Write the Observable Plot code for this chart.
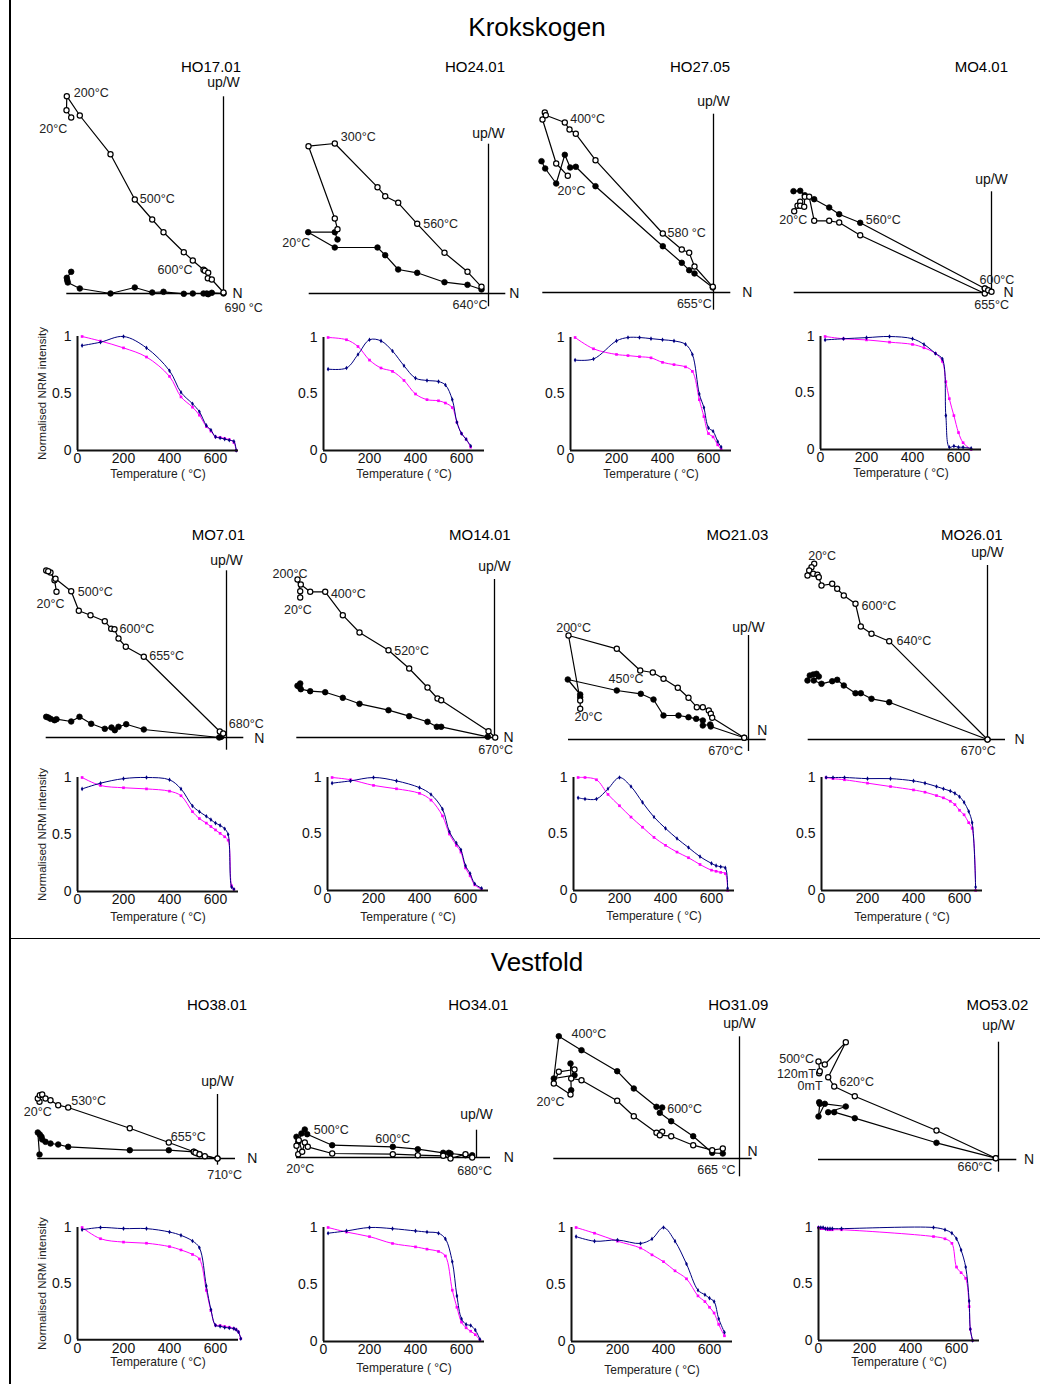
<!DOCTYPE html>
<html><head><meta charset="utf-8">
<script src="https://cdn.jsdelivr.net/npm/d3@7"></script>
<script src="https://cdn.jsdelivr.net/npm/@observablehq/plot@0.6"></script>
<style>
body{margin:0;background:#fff;}
#page{position:relative;width:1040px;height:1384px;overflow:hidden;font-family:"Liberation Sans",Arial,Helvetica,sans-serif;background:#fff;}
.abs{position:absolute;}
.sect{position:absolute;left:0;width:1074px;text-align:center;font-size:26px;line-height:30px;color:#000;}
.ttl{position:absolute;width:200px;text-align:right;font-size:15px;line-height:18px;color:#000;}
</style></head><body><div id="page"></div>
<script>
const FONT='"Liberation Sans", Arial, Helvetica, sans-serif';
// ---------- Zijderveld data (vertical projection = open, horizontal = closed), relative units ----------
const HO17_01_open=[[-152.3,176],[-157,183.3],[-156.7,197.3],[-143.7,178],[-113,139.3],[-88.7,94],[-71.3,74],[-60,61.3],[-39.7,41.3],[-30.7,33],[-20,23.7],[-18.7,22.7],[-15.3,20.7],[-15.7,15.3],[-11.7,14],[0,1]];
const HO17_01_closed=[[-152.3,21.7],[-156.7,15.7],[-156.3,13.3],[-155.7,11],[-143.7,5],[-113,0],[-88.7,6],[-71.3,1],[-60,1.7],[-39.7,-0.3],[-30.7,0],[-20,0],[-16.7,0],[-15.3,-0.7],[-11.7,0.7],[0,0]];
const HO17_01_labels=[{t:"200°C",s:"o",i:2},{t:"20°C",s:"o",i:0},{t:"500°C",s:"o",i:5},{t:"600°C",s:"o",i:10},{t:"690 °C",s:"o",i:15}];

const HO24_01_open=[[-151,64.3],[-153.7,75],[-180,147.3],[-153.7,150],[-111,106.3],[-103.3,97.3],[-90.3,90.7],[-71.3,69.7],[-44,40.7],[-21,21.7],[-7,6.7]];
const HO24_01_closed=[[-151,54],[-153.7,61.3],[-180.3,61.3],[-153.7,46],[-111,46],[-103.3,38.3],[-90.3,24],[-71.3,20.7],[-44,11.3],[-21,8.7],[-7,4]];
const HO24_01_labels=[{t:"300°C",s:"o",i:3},{t:"20°C",s:"c",i:2},{t:"560°C",s:"o",i:7},{t:"640°C",s:"o",i:10}];

const HO27_05_open=[[-145.7,116.7],[-157.3,129],[-171,173],[-168.7,180],[-167.7,177.3],[-148.7,170],[-144,163],[-137.7,158.7],[-118,132.3],[-50.7,59],[-31.7,43],[-24.3,39.7],[-19,26],[-0.7,5.7]];
const HO27_05_closed=[[-172,131.3],[-168.3,124],[-157.3,109],[-148.7,137.7],[-143.3,125],[-137.7,125.7],[-118,106.3],[-50.7,46.3],[-31.7,29.7],[-24.3,22.3],[-19,19],[-0.7,5]];
const HO27_05_labels=[{t:"400°C",s:"o",i:5},{t:"20°C",s:"o",i:0},{t:"580 °C",s:"o",i:9},{t:"655°C",s:"o",i:13}];

const MO4_01_open=[[-197.3,81.3],[-194,86.7],[-191.3,90.7],[-191.3,86.7],[-187.3,85.7],[-186.7,95.7],[-182.3,95.7],[-177.3,71.7],[-162.3,71.7],[-152.3,70],[-131.3,57.3],[-6.7,-1],[-6.7,4],[-3.3,2.3],[0,0.7]];
const MO4_01_closed=[[-198,101.3],[-191.3,101.7],[-186.7,97.3],[-177.3,93.3],[-162.3,85],[-152.3,78.3],[-131.3,69.7],[-6.7,4],[-4.7,3]];
const MO4_01_labels=[{t:"20°C",s:"o",i:0},{t:"560°C",s:"c",i:6},{t:"600°C",s:"o",i:12},{t:"655°C",s:"o",i:11}];

const MO7_01_open=[[-170,145.7],[-172,157.3],[-176,165],[-180.3,167],[-178.3,166.3],[-171,158.7],[-155.3,146.3],[-147.7,126.7],[-136,122.3],[-121.7,116.3],[-115.3,108.7],[-112,108.3],[-108,99],[-100.7,90.7],[-82.7,80.7],[-6.7,6],[-3.3,4]];
const MO7_01_closed=[[-180.3,20.7],[-178.3,20],[-176,18.7],[-172,17.3],[-170,18.3],[-155.3,16],[-147,20.7],[-135.3,13.7],[-121.7,8.7],[-115,10],[-111.7,7.3],[-108,10.7],[-100.3,13.3],[-82.7,8],[-7.3,0],[-5.3,0.7]];
const MO7_01_labels=[{t:"500°C",s:"o",i:6},{t:"20°C",s:"o",i:0},{t:"600°C",s:"o",i:11},{t:"655°C",s:"o",i:14},{t:"680°C",s:"o",i:16}];

const MO14_01_open=[[-194.3,140],[-194.3,146.3],[-197,158],[-193.7,153],[-184.3,145.7],[-169.3,145.7],[-151.7,122.3],[-135,105],[-106,87.3],[-85.3,69],[-67,50],[-57,39],[-53.3,37.3],[-6,6.3],[0.7,0]];
const MO14_01_closed=[[-197,51.7],[-194.3,54],[-195,50.7],[-193.7,48.3],[-184.3,46.3],[-169.3,45.3],[-151.7,39.7],[-135,33.7],[-106,27.3],[-85.3,21.3],[-67,15.7],[-57.7,10.7],[-53.3,10.7],[-6.7,0.7]];
const MO14_01_labels=[{t:"200°C",s:"o",i:2},{t:"20°C",s:"o",i:0},{t:"400°C",s:"o",i:5},{t:"520°C",s:"o",i:8},{t:"670°C",s:"o",i:14}];

const MO21_03_open=[[-168.3,30.7],[-168.3,39],[-180,104],[-131.7,90.7],[-108.3,69],[-95.7,67],[-85,60.7],[-70.7,51.7],[-60,41.7],[-51.7,32.3],[-45.7,32.3],[-39.7,29],[-37.7,25.7],[-36.3,21.7],[-4.3,1.7]];
const MO21_03_closed=[[-168.3,42.3],[-168.3,45],[-180.7,60],[-131.7,49],[-107.7,45.7],[-95,40],[-85,24],[-70,24],[-60,22.3],[-52.3,20.7],[-45.7,19],[-45.7,14],[-38.3,15],[-37.7,13],[-4.3,1.7]];
const MO21_03_labels=[{t:"200°C",s:"o",i:2},{t:"450°C",s:"o",i:4},{t:"20°C",s:"o",i:0},{t:"670°C",s:"o",i:14}];

const MO26_01_open=[[-173.3,175.7],[-176,172.3],[-178.3,169],[-180,164],[-174.3,165.7],[-170,164.7],[-168.7,162.3],[-166,154],[-155.3,155.7],[-150.3,150.7],[-143.7,144],[-132,135.7],[-126.7,113],[-116,105.7],[-98.3,98.3],[0,0]];
const MO26_01_closed=[[-180,59],[-177.7,64],[-174.3,65],[-171,65.7],[-168.7,63],[-173.7,59],[-166,55.7],[-155.3,58.3],[-150.3,59.7],[-143.7,54],[-132,46.3],[-126.7,46.3],[-116,40.7],[-98.3,37.3],[0,0]];
const MO26_01_labels=[{t:"20°C",s:"o",i:0},{t:"600°C",s:"o",i:11},{t:"640°C",s:"o",i:14},{t:"670°C",s:"o",i:15}];

const HO38_01_open=[[-178,56.7],[-179.7,60],[-177.7,63.3],[-175.3,64],[-172,60],[-167,58.3],[-159.3,53.3],[-149.3,51],[-87.7,30.3],[-48.7,16],[-23.7,6.7],[-22,5.7],[-18,4.3],[-12.7,2.3],[0,0]];
const HO38_01_closed=[[-178,4],[-179.7,26],[-177.7,24],[-176,21.7],[-175.3,19],[-172,16.7],[-167,15],[-159.3,14],[-149.3,11.7],[-87.7,8.3],[-48.7,8.3],[-23.7,6.7],[-20.3,5],[-18,4.3],[0,0]];
const HO38_01_labels=[{t:"530°C",s:"o",i:7},{t:"20°C",s:"o",i:0},{t:"655°C",s:"o",i:9},{t:"710°C",s:"o",i:14}];

const HO34_01_open=[[-178.3,3.3],[-180,11.7],[-177.7,17.3],[-174.3,5.7],[-171.7,15],[-168.7,10.7],[-144.3,4],[-83.7,3.3],[-58.7,2.3],[-33.3,1.7],[-26,-1],[-11,3.3],[-4.3,0]];
const HO34_01_closed=[[-180,20.7],[-178.3,15.7],[-175,24],[-171.7,28],[-169.3,23.3],[-144.3,12.3],[-83.7,10.7],[-58.7,8.3],[-33.3,4.7],[-27.7,4.7],[-26,4],[-11,2.3],[-4.3,2.3]];
const HO34_01_labels=[{t:"500°C",s:"c",i:3},{t:"600°C",s:"c",i:6},{t:"20°C",s:"o",i:0},{t:"680°C",s:"o",i:12}];

const HO31_09_open=[[-169,64],[-185.7,75],[-180.7,86.7],[-165,89],[-168.3,80],[-158,78.3],[-122.3,57.7],[-105.7,42.3],[-83,25.7],[-77.3,26.7],[-79.7,23.3],[-68.3,22.3],[-46.3,13.3],[-27.3,8.3],[-16.7,10]];
const HO31_09_closed=[[-168.3,68.3],[-169,95],[-165,83.3],[-185.7,80],[-180.7,122.3],[-158,108.3],[-122.3,87.3],[-105.7,70],[-83,51.7],[-77.3,51],[-79.7,45.7],[-68.3,37.3],[-46.3,22.3],[-27.3,5.7],[-16.7,5]];
const HO31_09_labels=[{t:"400°C",s:"c",i:4},{t:"20°C",s:"o",i:0},{t:"600°C",s:"c",i:9},{t:"665 °C",s:"c",i:14}];

const MO53_02_open=[[-179.3,86.3],[-178.7,88.3],[-180,98],[-173.7,95],[-152.7,117.3],[-170.3,82.3],[-164.3,73],[-143.7,63.3],[-62,29],[-2.7,1.3]];
const MO53_02_closed=[[-179.3,57.3],[-178.7,55.7],[-180,43],[-173.7,55.7],[-152.7,53],[-170.3,47.3],[-164.3,47.3],[-143.7,41.3],[-62,16.7],[-2.7,1.3]];
const MO53_02_labels=[{t:"500°C",s:"o",i:2},{t:"120mT",s:"o",i:1},{t:"0mT",s:"o",i:0},{t:"620°C",s:"o",i:6},{t:"660°C",s:"o",i:9}];

// ---------- Normalised NRM intensity curves ----------
const HO17_01_T=[20,100,200,300,400,450,500,530,560,580,600,620,640,660,680,690];
const HO17_01_blue=[0.92,0.95,1.0,0.9,0.7,0.51,0.41,0.34,0.22,0.18,0.12,0.11,0.10,0.09,0.08,0.0];
const HO17_01_mag=[1.0,0.96,0.9,0.82,0.65,0.47,0.38,0.31,0.21,0.17,0.12,0.115,0.105,0.095,0.07,0.0];

const HO24_01_T=[20,100,150,200,250,300,350,400,450,500,530,560,580,600,620,640];
const HO24_01_blue=[0.72,0.73,0.85,0.98,0.97,0.88,0.75,0.64,0.62,0.61,0.58,0.45,0.25,0.15,0.1,0.04];
const HO24_01_mag=[1.0,0.98,0.92,0.8,0.73,0.7,0.62,0.5,0.45,0.44,0.42,0.38,0.25,0.15,0.1,0.03];

const HO27_05_T=[20,100,200,250,300,350,400,450,500,530,560,580,600,620,640,655];
const HO27_05_blue=[0.8,0.81,0.97,1.0,1.0,0.99,0.98,0.97,0.94,0.85,0.5,0.38,0.2,0.17,0.08,0.03];
const HO27_05_mag=[1.0,0.9,0.85,0.84,0.83,0.82,0.78,0.76,0.74,0.7,0.45,0.3,0.15,0.12,0.05,0.01];

const MO4_01_T=[20,100,200,300,400,450,500,530,545,560,580,600,620,655];
const MO4_01_blue=[0.97,0.98,0.99,1.0,0.98,0.93,0.85,0.8,0.3,0.02,0.03,0.02,0.02,0.01];
const MO4_01_mag=[1.0,0.98,0.97,0.95,0.93,0.9,0.85,0.78,0.6,0.45,0.3,0.15,0.06,0.0];

const MO7_01_T=[20,100,200,300,400,450,500,530,560,580,600,620,640,655,670,680];
const MO7_01_blue=[0.9,0.95,0.99,1.0,0.98,0.9,0.75,0.7,0.66,0.63,0.6,0.58,0.55,0.5,0.04,0.02];
const MO7_01_mag=[1.0,0.93,0.91,0.9,0.88,0.84,0.7,0.64,0.6,0.57,0.54,0.51,0.48,0.45,0.05,0.02];

const MO14_01_T=[20,100,200,300,400,450,500,530,560,580,600,620,640,670];
const MO14_01_blue=[0.95,0.97,1.0,0.97,0.91,0.85,0.72,0.52,0.42,0.36,0.22,0.15,0.06,0.02];
const MO14_01_mag=[1.0,0.98,0.93,0.9,0.86,0.8,0.66,0.5,0.4,0.34,0.2,0.13,0.05,0.01];

const MO21_03_T=[20,50,100,150,200,250,300,350,400,450,500,550,600,620,640,660,670];
const MO21_03_blue=[0.82,0.81,0.81,0.9,1.0,0.92,0.78,0.65,0.55,0.46,0.38,0.3,0.24,0.22,0.21,0.2,0.02];
const MO21_03_mag=[1.0,1.0,0.98,0.85,0.75,0.65,0.56,0.47,0.4,0.34,0.29,0.23,0.18,0.17,0.16,0.15,0.0];

const MO26_01_T=[20,50,100,200,300,400,450,500,530,560,580,600,620,640,655,670];
const MO26_01_blue=[1.0,1.0,1.0,0.99,0.99,0.97,0.95,0.92,0.9,0.88,0.86,0.83,0.78,0.7,0.6,0.03];
const MO26_01_mag=[1.0,0.99,0.98,0.95,0.92,0.89,0.87,0.84,0.82,0.79,0.76,0.71,0.67,0.6,0.55,0.0];

const HO38_01_T=[20,100,200,300,400,450,500,530,560,580,600,620,640,660,680,690,700,710];
const HO38_01_blue=[0.98,1.0,0.99,0.99,0.96,0.93,0.88,0.82,0.48,0.27,0.13,0.12,0.11,0.105,0.1,0.09,0.07,0.01];
const HO38_01_mag=[1.0,0.9,0.87,0.86,0.83,0.8,0.76,0.72,0.44,0.26,0.13,0.127,0.118,0.112,0.1,0.09,0.07,0.01];

const HO34_01_T=[20,100,200,300,400,450,500,530,560,580,600,620,640,660,680];
const HO34_01_blue=[0.95,0.97,1.0,0.99,0.97,0.96,0.95,0.9,0.7,0.4,0.2,0.15,0.14,0.1,0.02];
const HO34_01_mag=[1.0,0.96,0.92,0.86,0.83,0.81,0.79,0.75,0.45,0.3,0.17,0.12,0.09,0.06,0.01];

const HO31_09_T=[20,100,200,300,350,400,450,500,550,580,600,620,640,665];
const HO31_09_blue=[0.92,0.88,0.89,0.86,0.9,1.0,0.88,0.68,0.45,0.41,0.38,0.35,0.2,0.08];
const HO31_09_mag=[1.0,0.95,0.88,0.82,0.76,0.7,0.62,0.55,0.4,0.35,0.3,0.25,0.15,0.05];

const MO53_02_T=[0,10,20,30,40,50,60,100,500,550,580,600,620,640,655,660,670];
const MO53_02_blue=[1.0,1.0,1.0,0.99,0.99,0.99,0.99,0.99,1.0,0.98,0.95,0.9,0.8,0.65,0.35,0.1,0.0];
const MO53_02_mag=[1.0,0.99,0.99,0.99,0.98,0.98,0.98,0.98,0.92,0.9,0.86,0.65,0.6,0.55,0.3,0.1,0.0];

const xTicks=[0,200,400,600];
const yTicks=[0,0.5,1];

// ---------- layout ----------
const page=document.getElementById("page");
function place(el,left,top){const d=document.createElement("div");d.className="abs";d.style.left=left+"px";d.style.top=top+"px";d.appendChild(el);page.appendChild(d);return d;}
function html(cls,txt,css){const d=document.createElement("div");d.className=cls;d.textContent=txt;Object.assign(d.style,css);page.appendChild(d);return d;}

function zij(name,open,closed,labels,L){
  const Lw=250,Rw=50,Tw=240,Bw=40,W=Lw+Rw,H=Tw+Bw;
  const o=open.map(([x,y])=>({x,y})), c=closed.map(([x,y])=>({x,y}));
  const textMarks=labels.map((l,k)=>{const p=(l.s==="o"?o:c)[l.i];const off=L.lab[k];
    return Plot.text([{x:p.x,y:p.y,t:l.t}],{x:"x",y:"y",text:"t",dx:off[0],dy:off[1],textAnchor:off[2],fontSize:12.5,fill:"#222"});});
  const svg=Plot.plot({
    width:W,height:H,marginLeft:0,marginRight:0,marginTop:0,marginBottom:0,
    x:{domain:[-Lw,Rw],range:[0,W],axis:null},
    y:{domain:[-Bw,Tw],range:[H,0],axis:null},
    style:{background:"transparent",overflow:"visible",fontFamily:FONT,maxWidth:"none"},
    marks:[
      Plot.ruleY([0],{x1:L.h[0],x2:L.h[1],stroke:"#000",strokeWidth:1.3}),
      Plot.ruleX([0],{y1:L.v[0],y2:L.v[1],stroke:"#000",strokeWidth:1.3}),
      Plot.line(c,{x:"x",y:"y",stroke:"#000",strokeWidth:1.2}),
      Plot.line(o,{x:"x",y:"y",stroke:"#000",strokeWidth:1.2}),
      Plot.dot(c,{x:"x",y:"y",r:2.8,fill:"#000",stroke:"#000",strokeWidth:0.8}),
      Plot.dot(o,{x:"x",y:"y",r:2.6,fill:"#fff",stroke:"#000",strokeWidth:1.2}),
      Plot.text([{x:0,y:L.v[1]}],{x:"x",y:"y",text:()=>"up/W",dy:L.up,textAnchor:"middle",fontSize:14,fill:"#111"}),
      Plot.text([{x:L.h[1],y:0}],{x:"x",y:"y",text:()=>"N",dx:L.n[0],dy:L.n[1],textAnchor:"start",fontSize:14,fill:"#111"}),
      ...textMarks
    ]
  });
  place(svg,L.ox-Lw,L.oy-Tw);
  html("ttl",name,{left:(L.tr-200)+"px",top:(L.ty-9)+"px"});
}

function nrm(T,blue,mag,P,ylab){
  const mL=60,mR=18,mT=12,mB=44,fw=161,fh=P.y0-P.y1;
  const data=T.map((t,i)=>({t,b:blue[i],m:mag[i]}));
  const marks=[
    Plot.line(data,{x:"t",y:"m",stroke:"#ff00ff",strokeWidth:1,curve:"catmull-rom"}),
    Plot.dot(data,{x:"t",y:"m",fill:"#ff00ff",r:1.5,symbol:"square"}),
    Plot.line(data,{x:"t",y:"b",stroke:"#000080",strokeWidth:1,curve:"catmull-rom"}),
    Plot.dot(data,{x:"t",y:"b",fill:"#000080",r:1.4,symbol:"diamond"}),
    Plot.ruleX([0],{y1:0,y2:1,stroke:"#111",strokeWidth:2}),
    Plot.ruleY([0],{x1:0,x2:700,stroke:"#111",strokeWidth:2}),
    Plot.text([0],{frameAnchor:"bottom",text:()=>"Temperature ( °C)",dy:P.td||27,fontSize:12,fill:"#222"})
  ];
  if(ylab) marks.push(Plot.text([0],{frameAnchor:"left",text:()=>"Normalised NRM intensity",dx:-35,rotate:-90,textAnchor:"middle",fontSize:11.5,fill:"#222"}));
  const svg=Plot.plot({
    width:mL+fw+mR,height:mT+fh+mB,marginLeft:mL,marginRight:mR,marginTop:mT,marginBottom:mB,
    x:{domain:[0,700],ticks:xTicks,tickSize:0,tickPadding:3,label:null},
    y:{domain:[0,1],ticks:yTicks,tickSize:0,tickPadding:6,label:null,tickFormat:d=>String(d)},
    style:{background:"transparent",overflow:"visible",fontFamily:FONT,fontSize:"14px",color:"#111",maxWidth:"none"},
    marks
  });
  place(svg,P.x0-mL,P.y1-mT);
}

// frame lines
html("abs","",{left:"9px",top:"0px",width:"1.5px",height:"1384px",background:"#000"});
html("abs","",{left:"9px",top:"937.5px",width:"1031px",height:"1.5px",background:"#000"});
html("sect","Krokskogen",{top:"12px"});
html("sect","Vestfold",{top:"947px"});

// Zijderveld panels
zij("HO17.01",HO17_01_open,HO17_01_closed,HO17_01_labels,{ox:223.3,oy:293.3,h:[-156.7,0],v:[0,196.7],up:-14,n:[9,0],tr:241,ty:67,
  lab:[[7,-3,"start"],[-4,11,"end"],[5,-1,"start"],[-11,0,"end"],[1,15,"start"]]});
zij("HO24.01",HO24_01_open,HO24_01_closed,HO24_01_labels,{ox:487.7,oy:293.3,h:[-179.3,17.3],v:[-13.3,149.3],up:-11,n:[3.5,0],tr:505,ty:67,
  lab:[[6,-7,"start"],[2,11,"end"],[6,0,"start"],[6,18,"end"]]});
zij("HO27.05",HO27_05_open,HO27_05_closed,HO27_05_labels,{ox:713.3,oy:292.3,h:[-170.7,17.3],v:[-17.7,178.3],up:-12.5,n:[11.4,0],tr:730,ty:67,
  lab:[[5.4,-3.3,"start"],[-10.3,15,"start"],[4.7,-0.7,"start"],[-1,16.7,"end"]]});
zij("MO4.01",MO4_01_open,MO4_01_closed,MO4_01_labels,{ox:990.7,oy:292.3,h:[-197.3,0],v:[0,100.7],up:-12.7,n:[12,0],tr:1008,ty:67,
  lab:[[-1,9,"middle"],[5.6,-2.6,"start"],[-5.3,-9,"start"],[-10.6,11.7,"start"]]});
zij("MO7.01",MO7_01_open,MO7_01_closed,MO7_01_labels,{ox:226,oy:737.3,h:[-180.3,17.3],v:[-12.7,166.7],up:-10.7,n:[10.5,1],tr:245,ty:535,
  lab:[[6.6,0.6,"start"],[-6,11.7,"middle"],[5,0,"start"],[5.4,-0.6,"start"],[5.6,-10,"start"]]});
zij("MO14.01",MO14_01_open,MO14_01_closed,MO14_01_labels,{ox:494.3,oy:737.3,h:[-197.7,0],v:[0,158],up:-12.6,n:[9,0],tr:510.7,ty:535,
  lab:[[10,-6,"end"],[-2.3,12.7,"middle"],[5.7,1.7,"start"],[5.7,1,"start"],[-17,12.7,"start"]]});
zij("MO21.03",MO21_03_open,MO21_03_closed,MO21_03_labels,{ox:748.3,oy:739,h:[-180,17.7],v:[-12,104],up:-7.7,n:[-9,-9],tr:768.3,ty:535,
  lab:[[-12.3,-7.7,"start"],[3.3,8.3,"end"],[-5.7,8.4,"start"],[-36,12.7,"start"]]});
zij("MO26.01",MO26_01_open,MO26_01_closed,MO26_01_labels,{ox:986.7,oy:739,h:[-179.3,18],v:[0,174],up:-13.3,n:[9,0],tr:1002.7,ty:535,
  lab:[[-6,-8.3,"start"],[6,1.7,"start"],[7.3,0,"start"],[-26.7,11,"start"]]});
zij("HO38.01",HO38_01_open,HO38_01_closed,HO38_01_labels,{ox:217,oy:1158.3,h:[-179.7,18],v:[-6.7,64],up:-12.6,n:[11.7,0],tr:247,ty:1005,
  lab:[[3,-6.6,"start"],[-15.7,10.6,"start"],[2,-6,"start"],[-10.3,16.7,"start"]]});
zij("HO34.01",HO34_01_open,HO34_01_closed,HO34_01_labels,{ox:476,oy:1157.3,h:[-180,14],v:[0,27.3],up:-16,n:[13.3,0],tr:508.3,ty:1005,
  lab:[[9,0.7,"start"],[0,-7.4,"middle"],[2,14.3,"middle"],[-15,13.7,"start"]]});
zij("HO31.09",HO31_09_open,HO31_09_closed,HO31_09_labels,{ox:739,oy:1158.3,h:[-185.7,12.7],v:[-18.3,121.7],up:-13.4,n:[-4.7,-6.7],tr:768.3,ty:1005,
  lab:[[12.7,-2.7,"start"],[-34,7.4,"start"],[5,1,"start"],[-25.6,16.7,"start"]]});
zij("MO53.02",MO53_02_open,MO53_02_closed,MO53_02_labels,{ox:997.7,oy:1159,h:[-180,18.3],v:[-12.7,117.3],up:-17,n:[7.3,0],tr:1028.3,ty:1005,
  lab:[[-4.4,-3,"end"],[-4,3,"end"],[3.4,13,"end"],[5,-4.3,"start"],[-38.3,9,"start"]]});

// NRM panels
nrm(HO17_01_T,HO17_01_blue,HO17_01_mag,{x0:77.3,y1:336,y0:450},true);
nrm(HO24_01_T,HO24_01_blue,HO24_01_mag,{x0:323,y1:337,y0:450},false);
nrm(HO27_05_T,HO27_05_blue,HO27_05_mag,{x0:570,y1:337,y0:450},false);
nrm(MO4_01_T,MO4_01_blue,MO4_01_mag,{x0:820,y1:336,y0:449},false);
nrm(MO7_01_T,MO7_01_blue,MO7_01_mag,{x0:77.3,y1:777,y0:891,td:29},true);
nrm(MO14_01_T,MO14_01_blue,MO14_01_mag,{x0:327,y1:777,y0:890,td:30},false);
nrm(MO21_03_T,MO21_03_blue,MO21_03_mag,{x0:573,y1:777,y0:890,td:29},false);
nrm(MO26_01_T,MO26_01_blue,MO26_01_mag,{x0:821,y1:777,y0:890,td:30},false);
nrm(HO38_01_T,HO38_01_blue,HO38_01_mag,{x0:77.3,y1:1227,y0:1339.3,td:26},true);
nrm(HO34_01_T,HO34_01_blue,HO34_01_mag,{x0:323,y1:1227,y0:1341,td:30},false);
nrm(HO31_09_T,HO31_09_blue,HO31_09_mag,{x0:571,y1:1227,y0:1341,td:32},false);
nrm(MO53_02_T,MO53_02_blue,MO53_02_mag,{x0:818,y1:1227,y0:1340,td:25},false);
</script></body></html>
